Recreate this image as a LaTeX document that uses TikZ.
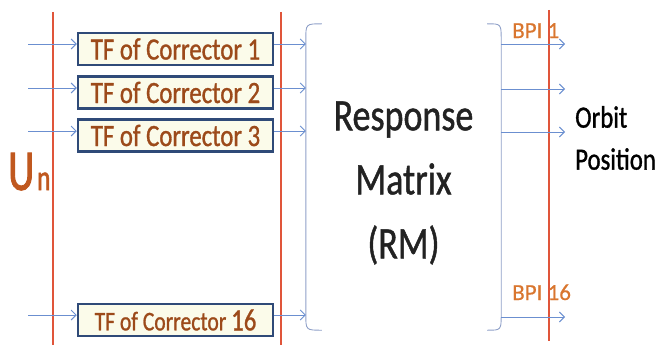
\documentclass[tikz,border=0pt]{standalone}
\usepackage{fontspec}
\setmainfont{Carlito}
\newfontfamily\condfont{Carlito}[FakeStretch=0.8,FakeBold=1]
\newfontfamily\narrowfont{Carlito}[FakeStretch=0.7,FakeBold=1.5]
\newfontfamily\bpifont{Carlito}[FakeBold=0.6]
\usetikzlibrary{arrows.meta,calc}
\definecolor{tftext}{HTML}{9C4A1A}
\definecolor{boxborder}{HTML}{2F4A78}
\definecolor{boxfill}{HTML}{FBFBEA}
\definecolor{redline}{HTML}{E0553A}
\definecolor{arrowblue}{HTML}{6B8FD0}
\definecolor{bracketcol}{HTML}{8FA0C8}
\definecolor{bpicol}{HTML}{D9762F}
\definecolor{ucol}{HTML}{C0581F}
\definecolor{rmtextcol}{HTML}{222222}
\begin{document}
\begin{tikzpicture}[x=1pt,y=-1pt,
  tfbox/.style={draw=boxborder, line width=2.5pt, fill=boxfill, minimum width=195pt, minimum height=32pt, inner sep=0pt, text=tftext, font=\condfont\fontsize{31}{31}\selectfont},
  arr/.style={draw=arrowblue, line width=0.9pt, -{Straight Barb[length=5pt,width=10pt]}},
  redl/.style={draw=redline, line width=1.2pt},
  bracket/.style={draw=bracketcol, line width=0.9pt},
  bpi/.style={text=bpicol, inner sep=0pt, anchor=base west, font=\bpifont\fontsize{23}{23}\selectfont}
]
\useasboundingbox (0,0) rectangle (660,345);

% red vertical lines
\coordinate (r1t) at (53,12);  \coordinate (r1b) at (53,345);
\coordinate (r2t) at (281,12); \coordinate (r2b) at (281,345);
\coordinate (r3t) at (549,10); \coordinate (r3b) at (549,341);
\draw[redl] (r1t) -- (r1b);
\draw[redl] (r2t) -- (r2b);
\draw[redl] (r3t) -- (r3b);

% response matrix block
\node[minimum width=195pt, minimum height=306pt, inner sep=0pt] (rm) at (403.5,177) {};
\draw[bracket] ([xshift=16pt]rm.north west) .. controls (rm.north west) .. ([yshift=-16pt]rm.north west)
  -- ([yshift=16pt]rm.south west) .. controls (rm.south west) .. ([xshift=16pt]rm.south west);
\draw[bracket] ([xshift=-14pt]rm.north east) .. controls (rm.north east) .. ([yshift=-16pt]rm.north east)
  -- ([yshift=16pt]rm.south east) .. controls (rm.south east) .. ([xshift=-14pt]rm.south east);
\node[text=rmtextcol, align=center, inner sep=0pt, font=\condfont\fontsize{45}{64}\selectfont] (rmlabel) at (403.5,183) {Response\\Matrix\\(RM)};

% corrector boxes
\node[tfbox] (c1) at (175.5,49) {TF of Corrector 1};
\node[tfbox] (c2) at (175.5,92.5) {TF of Corrector 2};
\node[tfbox] (c3) at (175.5,135.5) {TF of Corrector 3};
\node[tfbox] (c16) at (175.5,320) {\fontsize{27}{27}\selectfont TF of Corrector \fontsize{31}{31}\selectfont 16};

% input arrows
\coordinate (in1) at (28,44);
\coordinate (in2) at (28,88);
\coordinate (in3) at (28,131);
\coordinate (in16) at (28,315);
\foreach \i in {1,2,3,16}{
  \draw[arr] (in\i) -- (in\i -| c\i.west);
  \draw[arr] (in\i -| c\i.east) -- (in\i -| rm.west);
}

% output arrows
\coordinate (out1) at (565,44);
\coordinate (out2) at (565,89);
\coordinate (out3) at (565,132);
\coordinate (out16) at (565,317);
\foreach \i in {1,2,3,16}{
  \draw[arr] (out\i -| rm.east) -- (out\i);
}

% labels
\node[bpi] (bpi1) at (512,38) {BPI 1};
\node[bpi] (bpi16) at (512,300) {BPI 16};
\node[anchor=west, align=left, inner sep=0pt, text=black, font=\condfont\fontsize{31}{42}\selectfont] (orbit) at (575,138) {Orbit\\Position};
\node[anchor=base west, inner sep=0pt, text=ucol, font=\narrowfont\fontsize{58}{58}\selectfont] (u) at (8,190) {U};
\node[anchor=base west, inner sep=0pt, text=ucol, font=\narrowfont\fontsize{36}{36}\selectfont] (n) at (37,190) {n};
\end{tikzpicture}
\end{document}
